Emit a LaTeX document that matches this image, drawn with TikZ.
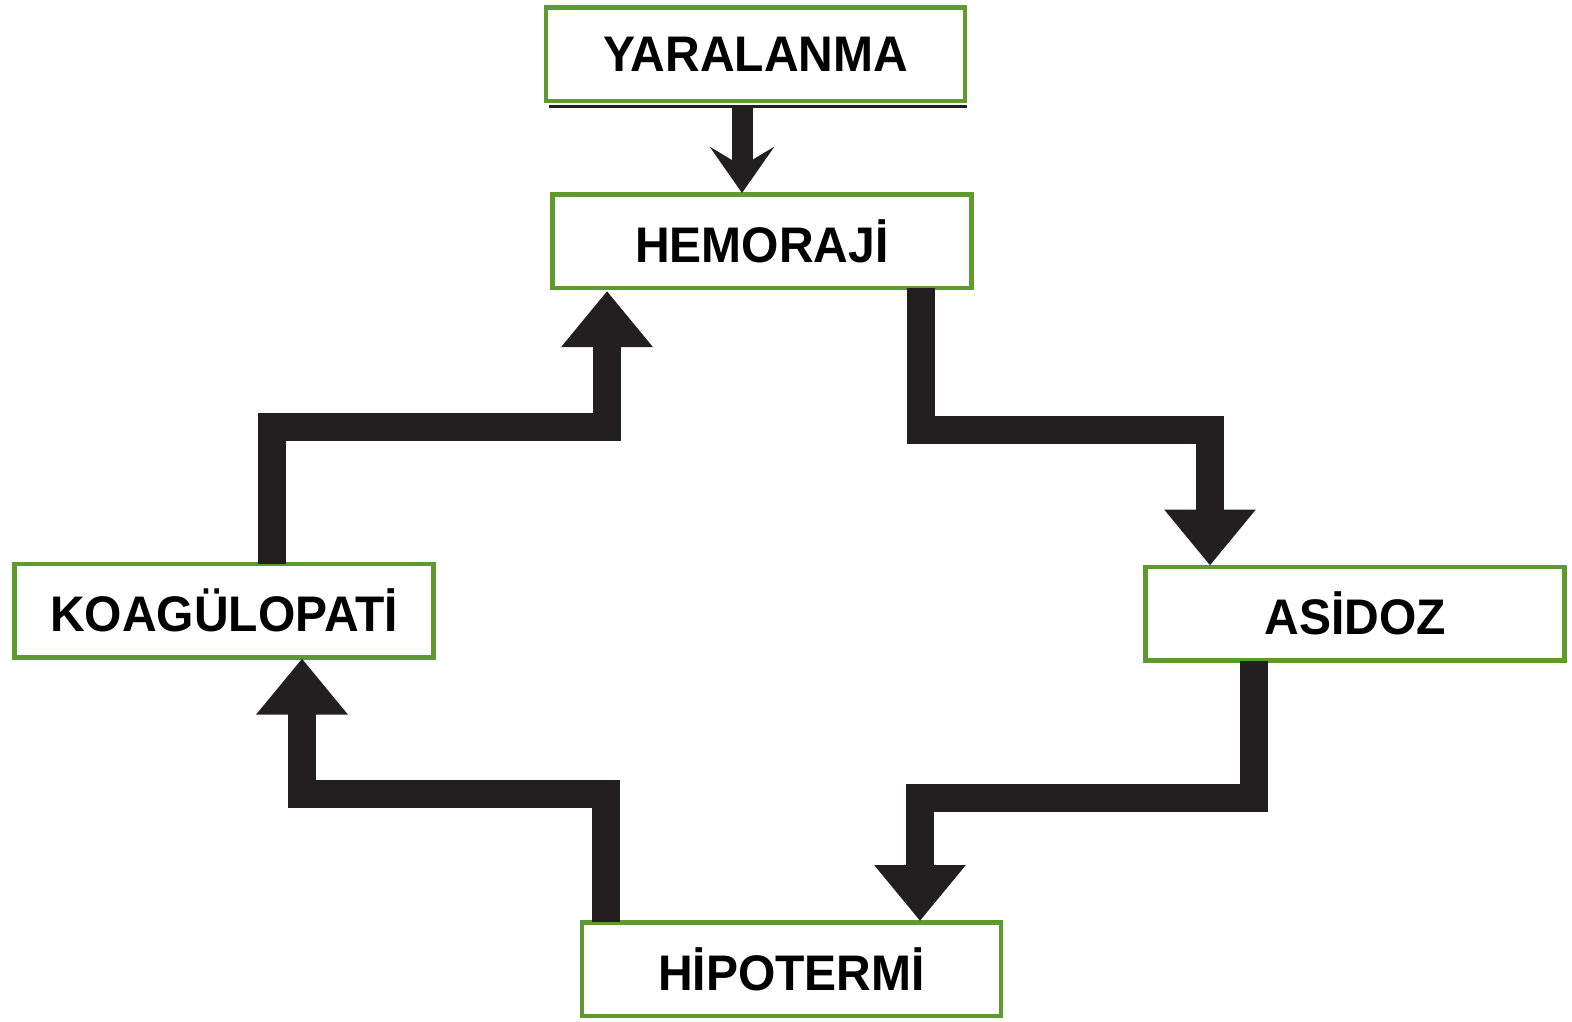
\documentclass[tikz,border=0pt]{standalone}
\usepackage{fontspec}
\setmainfont{Liberation Sans}[FakeStretch=0.96]
\usetikzlibrary{arrows.meta}
\definecolor{boxgreen}{RGB}{95,154,46}
\definecolor{arrowdark}{RGB}{35,31,32}
\begin{document}
\begin{tikzpicture}[x=1pt,y=-1pt,
  box/.style={draw=boxgreen, line width=4.5pt, fill=white, rectangle,
    minimum width=419pt, minimum height=93.5pt, inner sep=0pt,
    font=\fontsize{50}{58}\selectfont\bfseries, text=black},
  bigarrow/.style={draw=arrowdark, line width=28pt, line join=miter,
    -{Triangle[width=88pt,length=56pt]}},
  smallarrow/.style={draw=arrowdark, line width=21pt,
    -{Stealth[width=64pt,length=46pt,inset=19pt]}}]
\useasboundingbox (0,0) rectangle (1572,1021);

\node[box] (yar) at (755.5,54) {YARALANMA};
\node[box] (hem) at (762,241) {HEMORAJİ};
\node[box] (koa) at (224,610.5) {KOAGÜLOPATİ};
\node[box] (asi) at (1355,613.5) {ASİDOZ};
\node[box] (hip) at (791.5,969) {HİPOTERMİ};

% shadow line under YARALANMA
\draw[arrowdark, line width=3pt] ([xshift=5pt,yshift=-3.5pt]yar.south west) -- ([yshift=-3.5pt]yar.south east);

% bend coordinates
\coordinate (a1) at (272,427);
\coordinate (a2) at (607,427);
\coordinate (b1) at (921,430);
\coordinate (b2) at (1210,430);
\coordinate (c1) at (1254,798);
\coordinate (c2) at (920,798);
\coordinate (d1) at (606,794);
\coordinate (d2) at (302,794);
\coordinate (y1) at (742,0);

\draw[smallarrow] ([yshift=-2pt]y1 |- yar.south) -- ([yshift=-1pt]y1 |- hem.north);
\draw[bigarrow] ([yshift=-2pt]a1 |- koa.north) -- (a1) -- (a2) -- ([yshift=-1pt]a2 |- hem.south);
\draw[bigarrow] ([yshift=2pt]b1 |- hem.south) -- (b1) -- (b2) -- ([yshift=-1pt]b2 |- asi.north);
\draw[bigarrow] ([yshift=2pt]c1 |- asi.south) -- (c1) -- (c2) -- ([yshift=-1pt]c2 |- hip.north);
\draw[bigarrow] ([yshift=-2pt]d1 |- hip.north) -- (d1) -- (d2) -- ([yshift=1pt]d2 |- koa.south);
\end{tikzpicture}
\end{document}
